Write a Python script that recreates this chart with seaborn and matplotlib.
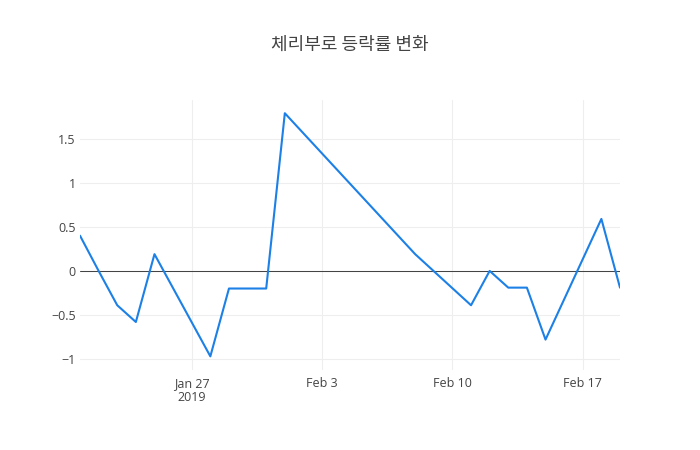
import matplotlib
matplotlib.use("Agg")
import matplotlib.pyplot as plt
import matplotlib.dates as mdates
import seaborn as sns
import pandas as pd
import numpy as np

dates = ["2019-01-21", "2019-01-22", "2019-01-23", "2019-01-24", "2019-01-25",
         "2019-01-28", "2019-01-29", "2019-01-30", "2019-01-31", "2019-02-01",
         "2019-02-08", "2019-02-11", "2019-02-12", "2019-02-13", "2019-02-14",
         "2019-02-15", "2019-02-18", "2019-02-19"]
rates = [0.40, 0.0, -0.39, -0.58, 0.19,
         -0.97, -0.20, -0.20, -0.20, 1.79,
         0.19, -0.39, 0.0, -0.19, -0.19,
         -0.78, 0.59, -0.19]
title = "체리부로 등락률 변화"
xtick_dates = ["2019-01-27", "2019-02-03", "2019-02-10", "2019-02-17"]
xtick_labels = ["Jan 27\n2019", "Feb 3", "Feb 10", "Feb 17"]
ytick_values = [-1, -0.5, 0, 0.5, 1, 1.5]
ytick_labels = ["−1", "−0.5", "0", "0.5", "1", "1.5"]

df = pd.DataFrame({"date": pd.to_datetime(dates), "rate": rates})

sns.set_theme(style="white")
plt.rcParams["font.family"] = ["Open Sans", "Noto Sans CJK KR", "DejaVu Sans"]

fig = plt.figure(figsize=(7, 4.5), dpi=100)
ax = fig.add_axes([80 / 700, 80 / 450, 540 / 700, 270 / 450])

sns.lineplot(data=df, x="date", y="rate", ax=ax, color="#1c80e6", linewidth=1.5, zorder=3)

ax.set_xlim(df["date"].min(), df["date"].max())
ax.set_ylim(-1.125, 1.94)

xt = mdates.date2num(pd.to_datetime(xtick_dates))
ax.set_xticks(xt)
ax.set_xticklabels(xtick_labels, linespacing=1.1)
ax.set_yticks(ytick_values)
ax.set_yticklabels(ytick_labels)

ax.grid(True, color="#eeeeee", linewidth=0.75, zorder=0)
ax.axhline(0, color="#444444", linewidth=0.75, zorder=2)
for s in ax.spines.values():
    s.set_visible(False)
ax.tick_params(axis="both", length=0, labelsize=9, labelcolor="#444444")
ax.tick_params(axis="x", pad=5)
ax.tick_params(axis="y", pad=3)
ax.set_xlabel("")
ax.set_ylabel("")

fig.text(0.5, 1 - 45 / 450, title, ha="center", va="center", fontsize=13,
         color="#444444", family=["Noto Sans CJK KR", "DejaVu Sans"])

fig.savefig("out.png", dpi=100, facecolor="white")
